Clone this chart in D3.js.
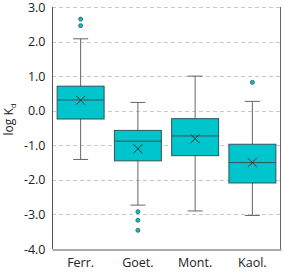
<!DOCTYPE html>
<html>
<head>
<meta charset="utf-8">
<script src="https://cdn.jsdelivr.net/npm/d3@7"></script>
<style>
  body { margin: 0; background: #fff; }
  svg text { font-family: "Open Sans", "Noto Sans", sans-serif; }
</style>
</head>
<body>
<div id="chart"></div>
<script>
// box plot values (log Kd)
const categories = ['Ferr.', 'Goet.', 'Mont.', 'Kaol.'];
const q1 = [-0.24, -1.45, -1.30, -2.09];
const median = [0.31, -0.88, -0.73, -1.50];
const q3 = [0.71, -0.57, -0.23, -0.97];
const mean = [0.30, -1.10, -0.81, -1.50];
const whiskLow = [-1.41, -2.73, -2.90, -3.03];
const whiskHigh = [2.08, 0.24, 1.00, 0.27];
const outliers = [[2.65, 2.46], [-2.92, -3.17, -3.46], [], [0.82]];
const yTicks = [3, 2, 1, 0, -1, -2, -3, -4];

var margin = { top: 7, right: 2, bottom: 23, left: 52 },
    width = 283 - margin.left - margin.right,
    height = 272 - margin.top - margin.bottom;

var svg = d3.select('#chart').append('svg')
    .attr('width', 283)
    .attr('height', 272)
    .append('g')
    .attr('transform', `translate(${margin.left},${margin.top})`);

var x = d3.scaleBand().domain(categories).range([0, width]).paddingInner(0.18).paddingOuter(0.09);
var y = d3.scaleLinear().domain([-4, 3]).range([height, 0]);

// dashed grid
svg.append('g').selectAll('line')
    .data(yTicks.filter(d => d > -4))
    .join('line')
    .attr('x1', 0).attr('x2', width)
    .attr('y1', d => Math.round(y(d)) + 0.5).attr('y2', d => Math.round(y(d)) + 0.5)
    .attr('stroke', '#c8c8c8')
    .attr('stroke-dasharray', '4,3');

// right frame
svg.append('line')
    .attr('x1', width - 0.5).attr('x2', width - 0.5)
    .attr('y1', y(3)).attr('y2', height)
    .attr('stroke', '#666');

var yAxis = svg.append('g')
    .attr('transform', 'translate(0.5,0)')
    .call(d3.axisLeft(y).tickValues(yTicks).tickFormat(d3.format('.1f')).tickSize(0).tickPadding(7));
yAxis.select('.domain').attr('stroke', '#555').attr('d', `M0,${y(3)}V${height}`);
yAxis.selectAll('text').attr('font-size', 12.5).attr('fill', '#222')
    .text(d => d3.format('.1f')(d).replace('−', '-'));

var xAxis = svg.append('g')
    .attr('transform', `translate(0,${Math.round(height) + 0.5})`)
    .call(d3.axisBottom(x).tickSize(0).tickPadding(9));
xAxis.select('.domain').attr('stroke', '#555');
xAxis.selectAll('text').attr('font-size', 12.5).attr('fill', '#222');

// y label
var lab = svg.append('text')
    .attr('transform', `translate(${-39},${y(-0.25)}) rotate(-90)`)
    .attr('text-anchor', 'middle')
    .attr('font-size', 12)
    .attr('fill', '#222');
lab.append('tspan').text('log K');
lab.append('tspan').attr('font-size', 8).attr('dy', 3).text('d');

var boxColor = '#00c5cc', edge = '#2f5557', capW = 15;

categories.forEach((c, i) => {
    var cx = x(c) + x.bandwidth() / 2;
    var g = svg.append('g');
    // whiskers
    g.append('line').attr('x1', cx).attr('x2', cx)
        .attr('y1', y(whiskHigh[i])).attr('y2', y(q3[i])).attr('stroke', '#666');
    g.append('line').attr('x1', cx).attr('x2', cx)
        .attr('y1', y(q1[i])).attr('y2', y(whiskLow[i])).attr('stroke', '#666');
    [whiskHigh[i], whiskLow[i]].forEach(v => {
        g.append('line').attr('x1', cx - capW / 2).attr('x2', cx + capW / 2)
            .attr('y1', y(v)).attr('y2', y(v)).attr('stroke', '#666');
    });
    // box
    g.append('rect')
        .attr('x', x(c)).attr('width', x.bandwidth())
        .attr('y', y(q3[i])).attr('height', y(q1[i]) - y(q3[i]))
        .attr('fill', boxColor).attr('stroke', edge);
    g.append('line').attr('x1', x(c)).attr('x2', x(c) + x.bandwidth())
        .attr('y1', y(median[i])).attr('y2', y(median[i])).attr('stroke', edge);
    // mean x
    var my = y(mean[i]), s = 4.5;
    g.append('path')
        .attr('d', `M${cx - s},${my - s}L${cx + s},${my + s}M${cx - s},${my + s}L${cx + s},${my - s}`)
        .attr('stroke', '#1f3535').attr('stroke-width', 1);
    // outliers
    g.selectAll('circle').data(outliers[i]).join('circle')
        .attr('cx', cx).attr('cy', d => y(d)).attr('r', 2)
        .attr('fill', boxColor).attr('stroke', edge).attr('stroke-width', 0.8);
});
</script>
</body>
</html>
